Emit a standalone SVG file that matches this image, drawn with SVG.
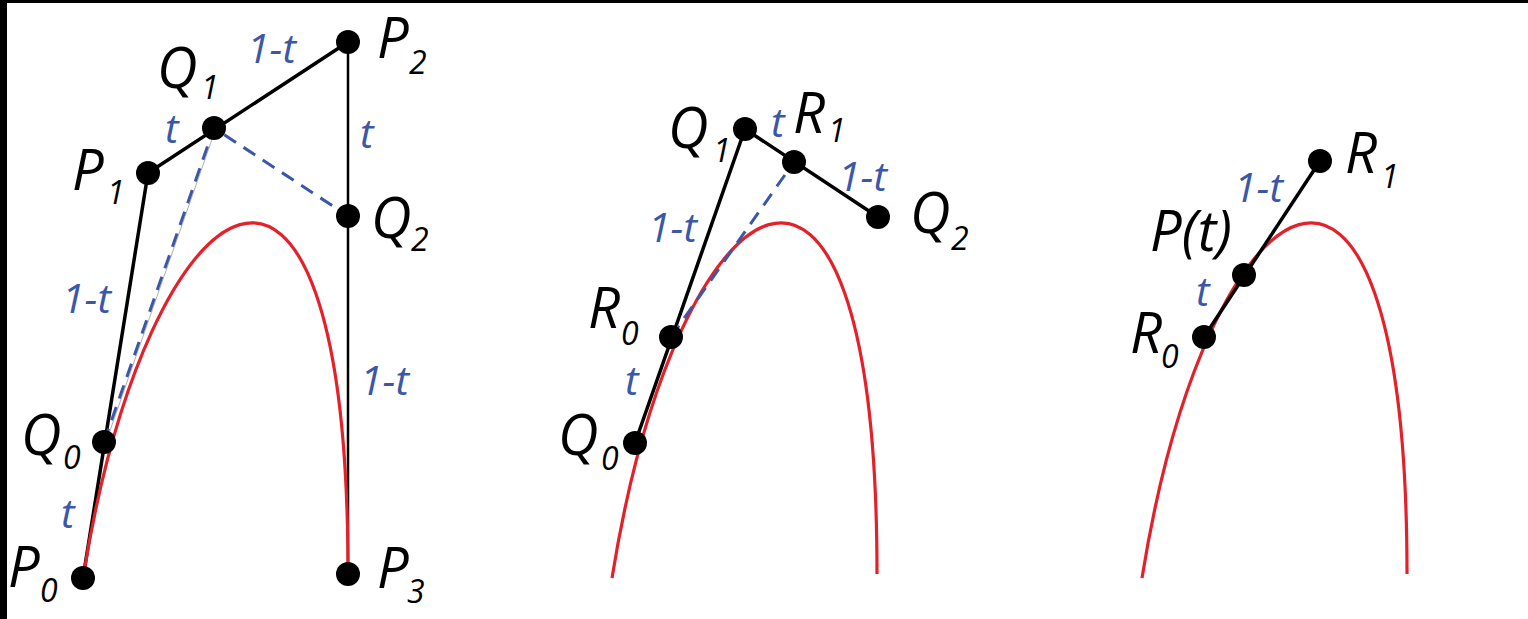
<svg xmlns="http://www.w3.org/2000/svg" width="1528" height="619" viewBox="0 0 1528 619">
<style>
.lbl{font-family:"Open Sans","Noto Sans","Liberation Sans",sans-serif;font-style:italic;font-size:56px;fill:#000}
.sub{font-size:32px}
.par{font-family:"Open Sans","Noto Sans","Liberation Sans",sans-serif;font-style:italic;font-size:41px;fill:#3b57a7}
.poly{fill:none;stroke:#000;stroke-width:3.5;stroke-linejoin:round}
.thin{fill:none;stroke:#000;stroke-width:2.5}
.dash{fill:none;stroke:#3b57a7;stroke-width:3;stroke-dasharray:14 9}
.grey{fill:none;stroke:#b0b0b0;stroke-width:1}
.curve{fill:none;stroke:#e3212a;stroke-width:3.2}
.dot{fill:#000}
</style>
<defs>
<path id="bez" d="M83,578 C148,173 348,42 348,574"/>
</defs>
<rect x="0" y="0" width="1528" height="619" fill="#000"/>
<rect x="7" y="3" width="1521" height="616" fill="#fff"/>

<g id="connectors">
  <polyline class="poly" points="83,578 148,173 348,42"/>
  <line class="thin" x1="348" y1="42" x2="348" y2="574"/>
  <line class="grey" x1="106" y1="442" x2="216" y2="128"/>
  <polyline class="dash" points="104,442 214,128 348,216"/>
  <use href="#bez" class="curve"/>
  <polyline class="poly" points="635,443 745,129 878,217"/>
  <use href="#bez" class="curve" transform="translate(529,0)"/>
  <line class="dash" x1="671" y1="337" x2="794" y2="162"/>
  <use href="#bez" class="curve" transform="translate(1059,0)"/>
  <line class="poly" x1="1204" y1="337" x2="1320" y2="161"/>
</g>

<g id="p1-P0"><circle class="dot" cx="83" cy="578" r="12"/><text class="lbl" x="8" y="587">P<tspan class="sub" x="40" y="602">0</tspan></text></g>
<g id="p1-P1"><circle class="dot" cx="148" cy="173" r="12"/><text class="lbl" x="72" y="190">P<tspan class="sub" x="107" y="204">1</tspan></text></g>
<g id="p1-P2"><circle class="dot" cx="348" cy="42" r="12"/><text class="lbl" x="377" y="58">P<tspan class="sub" x="409" y="74">2</tspan></text></g>
<g id="p1-P3"><circle class="dot" cx="348" cy="574" r="12"/><text class="lbl" x="377" y="588">P<tspan class="sub" x="407" y="603">3</tspan></text></g>
<g id="p1-Q0"><circle class="dot" cx="104" cy="442" r="12"/><text class="lbl" x="21" y="455">Q<tspan class="sub" x="63" y="469">0</tspan></text></g>
<g id="p1-Q1"><circle class="dot" cx="214" cy="128" r="12"/><text class="lbl" x="157" y="88">Q<tspan class="sub" x="201" y="99">1</tspan></text></g>
<g id="p1-Q2"><circle class="dot" cx="348" cy="216" r="12"/><text class="lbl" x="371" y="238">Q<tspan class="sub" x="411" y="251">2</tspan></text></g>
<g id="p1-params">
  <text class="par" x="247" y="63">1-t</text>
  <text class="par" x="165" y="143">t</text>
  <text class="par" x="360" y="148">t</text>
  <text class="par" x="62" y="313">1-t</text>
  <text class="par" x="360" y="395">1-t</text>
  <text class="par" x="61" y="528">t</text>
</g>

<g id="p2-Q0"><circle class="dot" cx="635" cy="443" r="12"/><text class="lbl" x="558" y="455">Q<tspan class="sub" x="601" y="470">0</tspan></text></g>
<g id="p2-Q1"><circle class="dot" cx="745" cy="129" r="12"/><text class="lbl" x="668" y="148">Q<tspan class="sub" x="713" y="162">1</tspan></text></g>
<g id="p2-Q2"><circle class="dot" cx="878" cy="217" r="12"/><text class="lbl" x="910" y="233">Q<tspan class="sub" x="951" y="250">2</tspan></text></g>
<g id="p2-R0"><circle class="dot" cx="671" cy="337" r="12"/><text class="lbl" x="588" y="328">R<tspan class="sub" x="621" y="345">0</tspan></text></g>
<g id="p2-R1"><circle class="dot" cx="794" cy="162" r="12"/><text class="lbl" x="793" y="133">R<tspan class="sub" x="828" y="142">1</tspan></text></g>
<g id="p2-params">
  <text class="par" x="771" y="137">t</text>
  <text class="par" x="838" y="191">1-t</text>
  <text class="par" x="648" y="242">1-t</text>
  <text class="par" x="625" y="395">t</text>
</g>

<g id="p3-R0"><circle class="dot" cx="1204" cy="337" r="12"/><text class="lbl" x="1130" y="353">R<tspan class="sub" x="1161" y="368">0</tspan></text></g>
<g id="p3-R1"><circle class="dot" cx="1320" cy="161" r="12"/><text class="lbl" x="1345" y="173">R<tspan class="sub" x="1381" y="188">1</tspan></text></g>
<g id="p3-Pt"><circle class="dot" cx="1244" cy="275" r="12"/><text class="lbl" x="1150" y="251">P(t)</text></g>
<g id="p3-params">
  <text class="par" x="1234" y="202">1-t</text>
  <text class="par" x="1196" y="306">t</text>
</g>
</svg>
